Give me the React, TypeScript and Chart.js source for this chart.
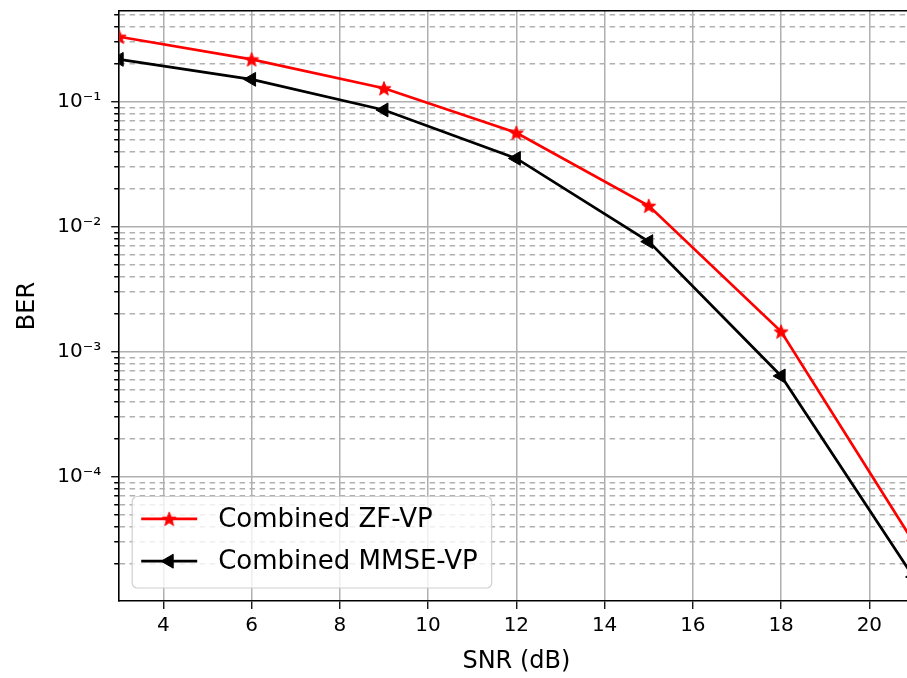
import React, { useEffect, useRef } from 'react';
import { Chart, registerables } from 'chart.js';

Chart.register(...registerables);

// ---- data ----
const snrDb = [3, 6, 9, 12, 15, 18, 21];
const berZfVp = [0.331, 0.218, 0.128, 0.0565, 0.0147, 0.00145, 3.0e-5];
const berMmseVp = [0.218, 0.151, 0.0859, 0.0352, 0.0076, 0.00064, 1.58e-5];
const xTickValues = [4, 6, 8, 10, 12, 14, 16, 18, 20];
const seriesLabels = ['Combined ZF-VP', 'Combined MMSE-VP'];
const xTitle = 'SNR (dB)';
const yTitle = 'BER';
const X_MIN = 3;
const X_MAX = 21;
const Y_MIN = 1.014e-5;
const Y_MAX = 0.5316;

const FONT = '"DejaVu Sans", sans-serif';
const GRID = '#b0b0b0';

const SUP: Record<string, string> = {
  '-': '\u207B', '0': '\u2070', '1': '\u00B9', '2': '\u00B2', '3': '\u00B3',
  '4': '\u2074', '5': '\u2075', '6': '\u2076', '7': '\u2077', '8': '\u2078', '9': '\u2079',
};
const toSup = (n: number) => String(n).split('').map((c) => SUP[c] || c).join('');

const isMajor = (v: number) => {
  const l = Math.log10(v);
  return Math.abs(l - Math.round(l)) < 1e-6;
};

function buildLogTicks(): number[] {
  const out: number[] = [];
  for (let e = -6; e <= 0; e++) {
    for (let m = 1; m <= 9; m++) {
      const v = m * Math.pow(10, e);
      if (v >= Y_MIN && v <= Y_MAX) out.push(v);
    }
  }
  return out;
}

function makeStar(color: string, size: number): HTMLCanvasElement {
  const c = document.createElement('canvas');
  c.width = size;
  c.height = size;
  const g = c.getContext('2d')!;
  const cx = size / 2;
  const cy = size / 2 + 0.7;
  const R = size / 2 - 0.6;
  const r = R * 0.42;
  g.beginPath();
  for (let i = 0; i < 10; i++) {
    const a = -Math.PI / 2 + (i * Math.PI) / 5;
    const rad = i % 2 === 0 ? R : r;
    const px = cx + rad * Math.cos(a);
    const py = cy + rad * Math.sin(a);
    if (i === 0) g.moveTo(px, py);
    else g.lineTo(px, py);
  }
  g.closePath();
  g.fillStyle = color;
  g.strokeStyle = color;
  g.lineWidth = 1;
  g.fill();
  g.stroke();
  return c;
}

function drawMarker(ctx: CanvasRenderingContext2D, ds: any, x: number, y: number) {
  const style = ds.pointStyle;
  if (style instanceof HTMLCanvasElement) {
    ctx.drawImage(style, x - style.width / 2, y - style.height / 2);
    return;
  }
  const r = ds.pointRadius;
  const rad = (ds.pointRotation * Math.PI) / 180;
  ctx.beginPath();
  ctx.moveTo(x + Math.sin(rad) * r, y - Math.cos(rad) * r);
  const r2 = rad + (2 * Math.PI) / 3;
  ctx.lineTo(x + Math.sin(r2) * r, y - Math.cos(r2) * r);
  const r3 = rad + (4 * Math.PI) / 3;
  ctx.lineTo(x + Math.sin(r3) * r, y - Math.cos(r3) * r);
  ctx.closePath();
  ctx.fillStyle = ds.pointBackgroundColor;
  ctx.strokeStyle = ds.pointBorderColor;
  ctx.lineWidth = 1;
  ctx.fill();
  ctx.stroke();
}

const insideLegend = {
  id: 'insideLegend',
  afterDatasetsDraw(chart: any) {
    const { ctx, chartArea } = chart;
    const datasets = chart.data.datasets;
    ctx.save();
    ctx.font = `26px ${FONT}`;
    const maxW = Math.max(...datasets.map((d: any) => ctx.measureText(d.label).width));
    const bx = chartArea.left + 13;
    const bh = 91.5;
    const by = chartArea.bottom - 13 - bh;
    const bw = 86 + maxW + 14;
    const rr = 5;
    ctx.beginPath();
    ctx.moveTo(bx + rr, by);
    ctx.arcTo(bx + bw, by, bx + bw, by + bh, rr);
    ctx.arcTo(bx + bw, by + bh, bx, by + bh, rr);
    ctx.arcTo(bx, by + bh, bx, by, rr);
    ctx.arcTo(bx, by, bx + bw, by, rr);
    ctx.closePath();
    ctx.fillStyle = 'rgba(255,255,255,0.8)';
    ctx.fill();
    ctx.strokeStyle = '#d0d0d0';
    ctx.lineWidth = 1.2;
    ctx.stroke();

    datasets.forEach((ds: any, i: number) => {
      const ry = by + 22.3 + i * 42.4;
      ctx.beginPath();
      ctx.moveTo(bx + 9, ry);
      ctx.lineTo(bx + 65, ry);
      ctx.strokeStyle = ds.borderColor;
      ctx.lineWidth = ds.borderWidth;
      ctx.stroke();
      drawMarker(ctx, ds, bx + 37, ry);
      ctx.fillStyle = '#000';
      ctx.textAlign = 'left';
      ctx.textBaseline = 'middle';
      ctx.fillText(ds.label, bx + 86, ry + 1);
    });
    ctx.restore();
  },
};

export default function App() {
  const ref = useRef<HTMLCanvasElement | null>(null);

  useEffect(() => {
    if (!ref.current) return;
    const star = makeStar('#ff0000', 16);
    const logTicks = buildLogTicks();

    const chart = new Chart(ref.current, {
      type: 'line',
      data: {
        datasets: [
          {
            label: seriesLabels[0],
            data: snrDb.map((x, i) => ({ x, y: berZfVp[i] })),
            borderColor: '#ff0000',
            backgroundColor: '#ff0000',
            borderWidth: 2.7,
            pointStyle: star as any,
            pointRadius: 8,
            pointBackgroundColor: '#ff0000',
            pointBorderColor: '#ff0000',
            tension: 0,
          },
          {
            label: seriesLabels[1],
            data: snrDb.map((x, i) => ({ x, y: berMmseVp[i] })),
            borderColor: '#000000',
            backgroundColor: '#000000',
            borderWidth: 2.7,
            pointStyle: 'triangle',
            pointRotation: -90,
            pointRadius: 8,
            pointBorderWidth: 1,
            pointBackgroundColor: '#000000',
            pointBorderColor: '#000000',
            tension: 0,
          },
        ],
      },
      options: {
        animation: false,
        responsive: false,
        maintainAspectRatio: false,
        events: [],
        layout: { padding: { left: 0, right: 26.5, top: 11, bottom: 0 } },
        plugins: {
          legend: { display: false },
          tooltip: { enabled: false },
        },
        scales: {
          x: {
            type: 'linear',
            position: 'bottom',
            min: X_MIN,
            max: X_MAX,
            afterBuildTicks: (s: any) => {
              s.ticks = xTickValues.map((v) => ({ value: v }));
            },
            afterFit: (s: any) => {
              s.height = 77;
              s.paddingLeft = 0;
              s.paddingRight = 0;
            },
            ticks: {
              autoSkip: false,
              maxRotation: 0,
              color: '#000',
              padding: 5,
              font: { family: FONT, size: 20 },
              callback: (v: any) => String(v),
            },
            grid: {
              color: GRID,
              lineWidth: 1.5,
              tickColor: '#000',
              tickLength: 8,
              tickWidth: 1.3,
            },
            border: { display: true, color: '#000', width: 1.6 },
            title: {
              display: true,
              text: xTitle,
              color: '#000',
              font: { family: FONT, size: 24 },
              padding: { top: 0, bottom: 1.5 },
            },
          },
          x2: {
            type: 'linear',
            position: 'top',
            min: X_MIN,
            max: X_MAX,
            afterFit: (s: any) => {
              s.height = 0;
              s.paddingLeft = 0;
              s.paddingRight = 0;
            },
            ticks: { display: false },
            grid: { display: false, drawTicks: false },
            border: { display: true, color: '#000', width: 1.6 },
          },
          y: {
            type: 'logarithmic',
            position: 'left',
            min: Y_MIN,
            max: Y_MAX,
            afterBuildTicks: (s: any) => {
              s.ticks = logTicks.map((v) => ({ value: v, major: isMajor(v) }));
            },
            afterFit: (s: any) => {
              s.width = 119.2;
              s.paddingTop = 0;
              s.paddingBottom = 0;
            },
            ticks: {
              autoSkip: false,
              color: '#000',
              padding: 10,
              font: { family: FONT, size: 20 },
              callback: (v: any) => {
                const n = Number(v);
                if (!isMajor(n)) return '';
                return '10' + toSup(Math.round(Math.log10(n)));
              },
            },
            grid: {
              color: GRID,
              lineWidth: 1.5,
              tickColor: '#000',
              tickLength: 8,
              tickWidth: 1.3,
              tickBorderDash: (c: any) =>
                c && c.tick && !isMajor(c.tick.value) ? [0, 3, 5, 100] : [],
            } as any,
            border: {
              display: true,
              color: '#000',
              width: 1.6,
              dash: (c: any) =>
                c && c.tick && !isMajor(c.tick.value) ? [5.5, 4.5] : [],
            } as any,
            title: {
              display: true,
              text: yTitle,
              color: '#000',
              font: { family: FONT, size: 24 },
              padding: { top: 13, bottom: 0 },
            },
          },
        },
      } as any,
      plugins: [insideLegend],
    });

    return () => chart.destroy();
  }, []);

  return (
    <div
      style={{
        position: 'fixed',
        left: 0,
        top: 0,
        width: 907,
        height: 678,
        overflow: 'hidden',
        background: '#ffffff',
      }}
    >
      <canvas
        ref={ref}
        width={940}
        height={678}
        style={{ display: 'block', width: 940, height: 678 }}
      />
    </div>
  );
}
